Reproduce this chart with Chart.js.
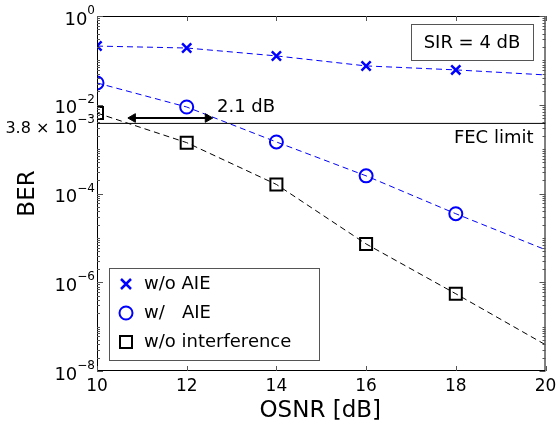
<!DOCTYPE html>
<html>
<head>
<meta charset="utf-8">
<script src="https://cdn.jsdelivr.net/npm/chart.js@4/dist/chart.umd.min.js"></script>
<style>
  html, body { margin: 0; padding: 0; background: #fff; }
  #wrap { width: 556px; height: 430px; }
</style>
</head>
<body>
<div id="wrap"><canvas id="ber" width="556" height="430"></canvas></div>
<script>
// OSNR [dB] where BER was measured
const osnr = [10, 12, 14, 16, 18];
// dashed fit curves go on to 20 dB
const fitOsnr = [10, 12, 14, 16, 18, 20];

const berNoAie = [0.21, 0.19, 0.126, 0.075, 0.061];
const berAie = [0.031, 0.0089, 0.00145, 0.00025, 0.000035];
const berNoInterf = [0.0065, 0.0014, 0.00016, 0.0000073, 0.00000055];

const fitNoAie = [0.21, 0.19, 0.126, 0.075, 0.061, 0.047];
const fitAie = [0.031, 0.0089, 0.00145, 0.00025, 0.000035, 0.0000054];
const fitNoInterf = [0.0065, 0.0014, 0.00016, 0.0000073, 0.00000055, 0.000000039];

const fecLimit = 3.8e-3;
const gapOsnr = [10.8, 12.47];   // 2.1 dB arrow
const gapBer = 5.03e-3;

const xTicks = [10, 12, 14, 16, 18, 20];
const yLabelExp = [0, -2, -4, -6, -8];

const legendNames = ['w/o AIE', 'w/   AIE', 'w/o interference'];

const BLUE = '#0000ff';
const FONT = '"DejaVu Sans", "Liberation Sans", Arial, sans-serif';

const pts = (xs, ys) => xs.map((x, i) => ({ x: x, y: ys[i] }));

function fitLine(ys, color) {
  return {
    type: 'line', data: pts(fitOsnr, ys), borderColor: color, borderWidth: 1,
    borderDash: [6, 4], pointRadius: 0, fill: false, tension: 0,
  };
}
function markers(ys, color, style, r, w) {
  return {
    type: 'scatter', data: pts(osnr, ys), showLine: false,
    pointStyle: style, pointRadius: r, pointHoverRadius: r,
    pointBorderColor: color, pointBackgroundColor: 'rgba(0,0,0,0)', pointBorderWidth: w,
  };
}

function drawPow(ctx, exp, xRight, yMid) {
  const e = exp === 0 ? '0' : '\u2212' + Math.abs(exp);
  ctx.font = '12px ' + FONT;
  const ew = ctx.measureText(e).width;
  ctx.font = '18px ' + FONT;
  const bw = ctx.measureText('10').width;
  ctx.textAlign = 'left';
  ctx.textBaseline = 'middle';
  ctx.fillText('10', xRight - ew - bw, yMid);
  ctx.font = '12px ' + FONT;
  ctx.fillText(e, xRight - ew, yMid - 9);
  return xRight - ew - bw;
}

const decor = {
  id: 'decor',
  afterDraw(chart) {
    const ctx = chart.ctx;
    const a = chart.chartArea;
    const xs = chart.scales.x, ys = chart.scales.y;
    ctx.save();
    ctx.fillStyle = '#000';
    ctx.strokeStyle = '#000';
    ctx.lineWidth = 1;

    // frame
    ctx.strokeRect(a.left + 0.5, a.top + 0.5, a.right - a.left - 1, a.bottom - a.top - 1);

    // x ticks, inside on top and bottom
    ctx.strokeStyle = '#555';
    xTicks.forEach(v => {
      const px = Math.round(xs.getPixelForValue(v)) + 0.5;
      ctx.beginPath();
      ctx.moveTo(px, a.bottom); ctx.lineTo(px, a.bottom - 5);
      ctx.moveTo(px, a.top); ctx.lineTo(px, a.top + 5);
      ctx.stroke();
    });
    // y log ticks, inside on left and right
    for (let e = -8; e <= 0; e++) {
      for (let k = 1; k <= 9; k++) {
        const v = k * Math.pow(10, e);
        if (v > 1) break;
        const py = Math.round(ys.getPixelForValue(v)) + 0.5;
        const len = (k === 1 && e % 2 === 0) ? 6 : 3;
        ctx.beginPath();
        ctx.moveTo(a.left, py); ctx.lineTo(a.left + len, py);
        ctx.moveTo(a.right, py); ctx.lineTo(a.right - len, py);
        ctx.stroke();
      }
    }

    // tick labels
    ctx.fillStyle = '#000';
    ctx.font = '17px ' + FONT;
    ctx.textAlign = 'center';
    ctx.textBaseline = 'middle';
    xTicks.forEach(v => ctx.fillText(String(v), xs.getPixelForValue(v), a.bottom + 16));
    yLabelExp.forEach(e => drawPow(ctx, e, 95, ys.getPixelForValue(Math.pow(10, e)) + 4));

    // FEC label on the left
    const fy = ys.getPixelForValue(fecLimit) + 5;
    const bx = drawPow(ctx, -3, 95, fy);
    ctx.font = '16px ' + FONT;
    ctx.textAlign = 'right';
    ctx.fillText('3.8 \u00d7 ', bx, fy);

    // axis titles
    ctx.font = '23px ' + FONT;
    ctx.textAlign = 'center';
    ctx.fillText('OSNR [dB]', (a.left + a.right) / 2 - 1, 411);
    ctx.save();
    ctx.translate(28, (a.top + a.bottom) / 2);
    ctx.rotate(-Math.PI / 2);
    ctx.fillText('BER', 0, 0);
    ctx.restore();

    // annotations
    ctx.font = '18px ' + FONT;
    ctx.textAlign = 'left';
    ctx.fillText('2.1 dB', 217, ys.getPixelForValue(gapBer) - 11);
    ctx.textAlign = 'right';
    ctx.fillText('FEC limit', a.right - 12, ys.getPixelForValue(fecLimit) + 15);

    // SIR box
    ctx.fillStyle = '#fff';
    ctx.fillRect(411.5, 24.5, 122, 36);
    ctx.strokeRect(411.5, 24.5, 122, 36);
    ctx.fillStyle = '#000';
    ctx.textAlign = 'center';
    ctx.fillText('SIR = 4 dB', 472, 43);

    // legend
    ctx.fillStyle = '#fff';
    ctx.fillRect(109.5, 268.5, 210, 92);
    ctx.strokeRect(109.5, 268.5, 210, 92);
    const ly = [284, 313, 342];
    ctx.lineWidth = 2.5;
    ctx.strokeStyle = BLUE;
    ctx.beginPath();
    ctx.moveTo(121, ly[0] - 5); ctx.lineTo(131, ly[0] + 5);
    ctx.moveTo(131, ly[0] - 5); ctx.lineTo(121, ly[0] + 5);
    ctx.stroke();
    ctx.lineWidth = 2;
    ctx.beginPath();
    ctx.arc(126, ly[1], 6.5, 0, Math.PI * 2);
    ctx.stroke();
    ctx.strokeStyle = '#000';
    ctx.strokeRect(120, ly[2] - 6, 12, 12);
    ctx.fillStyle = '#000';
    ctx.font = '18px ' + FONT;
    ctx.textAlign = 'left';
    legendNames.forEach((t, i) => ctx.fillText(t, 144, ly[i]));
    ctx.restore();
  }
};

new Chart(document.getElementById('ber'), {
  data: {
    datasets: [
      { type: 'line', data: pts([10, 20], [fecLimit, fecLimit]), borderColor: '#000',
        borderWidth: 1, pointRadius: 0 },
      { type: 'line', data: pts(gapOsnr, [gapBer, gapBer]), borderColor: '#000', borderWidth: 2,
        pointStyle: 'triangle', pointRotation: [-90, 90], pointRadius: 5,
        pointBackgroundColor: '#000', pointBorderColor: '#000', pointBorderWidth: 1 },
      fitLine(fitNoAie, BLUE),
      fitLine(fitAie, BLUE),
      fitLine(fitNoInterf, '#000'),
      markers(berNoAie, BLUE, 'crossRot', 6.5, 2.5),
      markers(berAie, BLUE, 'circle', 6.5, 2),
      markers(berNoInterf, '#000', 'rect', 8.5, 2),
    ],
  },
  options: {
    responsive: false,
    animation: false,
    devicePixelRatio: 1,
    layout: { padding: { left: 97, top: 16, right: 10, bottom: 59 } },
    scales: {
      x: { type: 'linear', min: 10, max: 20, display: false },
      y: { type: 'logarithmic', min: 1e-8, max: 1, display: false },
    },
    plugins: { legend: { display: false }, tooltip: { enabled: false } },
  },
  plugins: [decor],
});
</script>
</body>
</html>
